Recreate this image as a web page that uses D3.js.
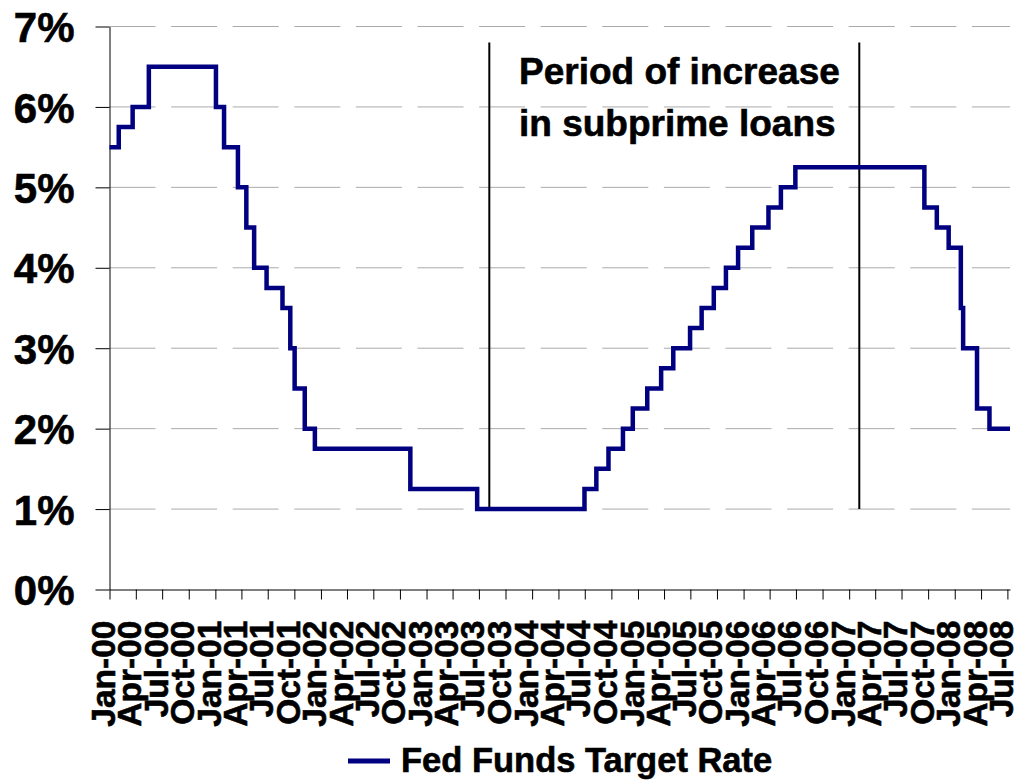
<!DOCTYPE html>
<html>
<head>
<meta charset="utf-8">
<script src="https://cdn.jsdelivr.net/npm/d3@7"></script>
<style>
  html, body { margin: 0; padding: 0; background: #fff; }
  svg text { font-family: "Liberation Sans", Arial, Helvetica, sans-serif; font-weight: bold; fill: #000; stroke: #000; stroke-width: 0.6px; }
</style>
</head>
<body>
<svg id="chart" width="1019" height="781"></svg>
<script>
// ---- Data ----
const changeDates = [
  "2000-01-01","2000-02-02","2000-03-21","2000-05-16",
  "2001-01-03","2001-01-31","2001-03-20","2001-04-18","2001-05-15","2001-06-27",
  "2001-08-21","2001-09-17","2001-10-02","2001-11-06","2001-12-11",
  "2002-11-06","2003-06-25",
  "2004-06-30","2004-08-10","2004-09-21","2004-11-10","2004-12-14",
  "2005-02-02","2005-03-22","2005-05-03","2005-06-30","2005-08-09","2005-09-20",
  "2005-11-01","2005-12-13",
  "2006-01-31","2006-03-28","2006-05-10","2006-06-29",
  "2007-09-18","2007-10-31","2007-12-11",
  "2008-01-22","2008-01-30","2008-03-18","2008-04-30","2008-07-10"
];
const rates = [
  5.50, 5.75, 6.00, 6.50,
  6.00, 5.50, 5.00, 4.50, 4.00, 3.75,
  3.50, 3.00, 2.50, 2.00, 1.75,
  1.25, 1.00,
  1.25, 1.50, 1.75, 2.00, 2.25,
  2.50, 2.75, 3.00, 3.25, 3.50, 3.75,
  4.00, 4.25,
  4.50, 4.75, 5.00, 5.25,
  4.75, 4.50, 4.25,
  3.50, 3.00, 2.25, 2.00, 2.00
];
const yTicks = [0, 1, 2, 3, 4, 5, 6, 7];
const xTickLabels = [
  "Jan-00","Apr-00","Jul-00","Oct-00","Jan-01","Apr-01","Jul-01","Oct-01",
  "Jan-02","Apr-02","Jul-02","Oct-02","Jan-03","Apr-03","Jul-03","Oct-03",
  "Jan-04","Apr-04","Jul-04","Oct-04","Jan-05","Apr-05","Jul-05","Oct-05",
  "Jan-06","Apr-06","Jul-06","Oct-06","Jan-07","Apr-07","Jul-07","Oct-07",
  "Jan-08","Apr-08","Jul-08"
];
const markerDates = ["2003-08-06", "2007-02-05"];
const markerRange = [1, 6.8];
const annotationLines = ["Period of increase", "in subprime loans"];
const seriesName = "Fed Funds Target Rate";

// ---- Setup ----
const parse = d3.timeParse("%Y-%m-%d");
const fmt = d3.timeFormat("%b-%y");
const points = changeDates.map((d, i) => ({ date: parse(d), rate: rates[i] }));
const tickDates = xTickLabels.map(s => d3.timeParse("%b-%y")(s));

const svg = d3.select("#chart");
const x = d3.scaleTime()
  .domain([parse("2000-01-01"), parse("2008-07-10")])
  .range([109.5, 1010]);
const y = d3.scaleLinear().domain([0, 7]).range([589.5, 26.5]);

// gridlines
svg.append("g")
  .selectAll("line")
  .data(yTicks.filter(d => d > 0))
  .join("line")
  .attr("x1", x.range()[0])
  .attr("x2", x.range()[1])
  .attr("y1", d => y(d))
  .attr("y2", d => y(d))
  .attr("stroke", "#aaaaaa")
  .attr("stroke-width", 1)
  .attr("stroke-dasharray", "46,15.6");

// y axis
const yAxis = svg.append("g")
  .attr("transform", `translate(${x.range()[0]},0)`)
  .call(d3.axisLeft(y).tickValues(yTicks).tickSize(14).tickSizeOuter(0).tickPadding(21)
    .tickFormat(d => d + "%"));
yAxis.selectAll("path, line").attr("stroke", "#000").attr("stroke-width", 1);
yAxis.selectAll("text").style("font-size", "42px").attr("dy", "0.36em");

// x axis
const xAxis = svg.append("g")
  .attr("transform", `translate(0,${y(0)})`)
  .call(d3.axisBottom(x).tickValues(tickDates).tickSize(10).tickSizeOuter(0)
    .tickFormat(fmt));
xAxis.selectAll("path, line").attr("stroke", "#000").attr("stroke-width", 1);
xAxis.selectAll("text")
  .style("font-size", "33.5px")
  .attr("text-anchor", "end")
  .attr("transform", "rotate(-90)")
  .attr("x", -31)
  .attr("y", 0)
  .attr("dy", "0.15em");

// marker lines
svg.append("g")
  .selectAll("line")
  .data(markerDates)
  .join("line")
  .attr("x1", d => x(parse(d)))
  .attr("x2", d => x(parse(d)))
  .attr("y1", y(markerRange[1]))
  .attr("y2", y(markerRange[0]))
  .attr("stroke", "#000")
  .attr("stroke-width", 2);

// series line
const line = d3.line()
  .x(d => x(d.date))
  .y(d => y(d.rate))
  .curve(d3.curveStepAfter);
svg.append("path")
  .datum(points)
  .attr("d", line)
  .attr("fill", "none")
  .attr("stroke", "#000080")
  .attr("stroke-width", 4.5)
  .attr("stroke-linejoin", "miter");

// annotation
const ann = svg.append("text")
  .attr("x", 519)
  .attr("y", 84)
  .style("font-size", "37px");
annotationLines.forEach((t, i) => {
  ann.append("tspan").attr("x", 519).attr("dy", i === 0 ? 0 : 52).text(t);
});

// legend
const legend = svg.append("g");
legend.append("line")
  .attr("x1", 348).attr("x2", 390)
  .attr("y1", 761).attr("y2", 761)
  .attr("stroke", "#000080").attr("stroke-width", 5);
legend.append("text")
  .attr("x", 401).attr("y", 772)
  .style("font-size", "34.5px")
  .text(seriesName);
</script>
</body>
</html>
